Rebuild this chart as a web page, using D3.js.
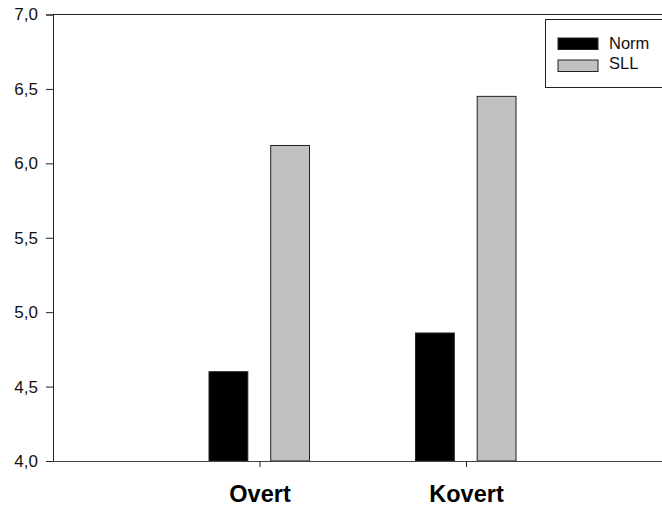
<!DOCTYPE html>
<html><head><meta charset="utf-8">
<script src="https://cdn.jsdelivr.net/npm/d3@7"></script>
<style>body{margin:0;background:#fff}svg{display:block}text{font-family:Arial,"Liberation Sans",sans-serif}</style>
</head><body>
<script>
const categories = ["Overt", "Kovert"];
const series = ["Norm", "SLL"];
const normValues = [4.60, 4.86];
const sllValues = [6.12, 6.45];
const yTicks = [4.0, 4.5, 5.0, 5.5, 6.0, 6.5, 7.0];
const colors = {Norm: "#000000", SLL: "#c0c0c0"};

const W = 662, H = 510;
const mLeft = 53, mTop = 14.5, mBottom = 461;
const svg = d3.select("body").append("svg").attr("width", W).attr("height", H);

const y = d3.scaleLinear().domain([4, 7]).range([mBottom, mTop]);
const x = d3.scaleLinear().domain([0, 3]).range([mLeft, mLeft + 206.5 * 3]);
const inner = d3.scaleBand().domain(series).range([-50.5, 50]).paddingInner(0.371);

const data = [];
categories.forEach((c, i) => {
  data.push({cat: c, i: i + 1, s: "Norm", v: normValues[i]});
  data.push({cat: c, i: i + 1, s: "SLL", v: sllValues[i]});
});

svg.selectAll("rect.bar").data(data).enter().append("rect")
  .attr("class", "bar")
  .attr("x", d => x(d.i) + inner(d.s))
  .attr("width", inner.bandwidth())
  .attr("y", d => y(d.v))
  .attr("height", d => mBottom - y(d.v))
  .attr("fill", d => colors[d.s])
  .attr("stroke", "#222").attr("stroke-width", 1);

// Y axis
const fmt = v => d3.format(".1f")(v).replace(".", ",");
const yAxis = svg.append("g").attr("transform", `translate(${mLeft},0)`)
  .call(d3.axisLeft(y).tickValues(yTicks).tickFormat(fmt).tickSize(7).tickPadding(8));
yAxis.select(".domain").attr("stroke", "#222");
yAxis.selectAll(".tick line").attr("stroke", "#222");
yAxis.selectAll("text").attr("font-size", 17).attr("fill", "#111")
  .attr("font-family", "Arial, 'Liberation Sans', sans-serif");

// X axis
const xAxis = svg.append("g").attr("transform", `translate(0,${mBottom})`)
  .call(d3.axisBottom(x).tickValues([1, 2]).tickFormat(i => categories[i - 1]).tickSizeInner(6).tickSizeOuter(0).tickPadding(18));
xAxis.select(".domain").attr("stroke", "#444");
xAxis.selectAll(".tick line").attr("stroke", "#222");
xAxis.selectAll("text").attr("font-size", 23.5).attr("font-weight", "bold").attr("fill", "#000")
  .attr("font-family", "Arial, 'Liberation Sans', sans-serif");

// top frame line
svg.append("line").attr("x1", mLeft).attr("x2", W + 10).attr("y1", mTop).attr("y2", mTop)
  .attr("stroke", "#222");

// Legend
const lg = svg.append("g");
lg.append("rect").attr("x", 545.5).attr("y", 19.5).attr("width", 130).attr("height", 68)
  .attr("fill", "#fff").attr("stroke", "#222");
series.forEach((s, k) => {
  lg.append("rect").attr("x", 558).attr("y", 38 + k * 22).attr("width", 40).attr("height", 11.5)
    .attr("fill", colors[s]).attr("stroke", "#222");
  lg.append("text").attr("x", 609).attr("y", 49 + k * 20).text(s)
    .attr("font-size", 16.5).attr("fill", "#111");
});
</script>
</body></html>
